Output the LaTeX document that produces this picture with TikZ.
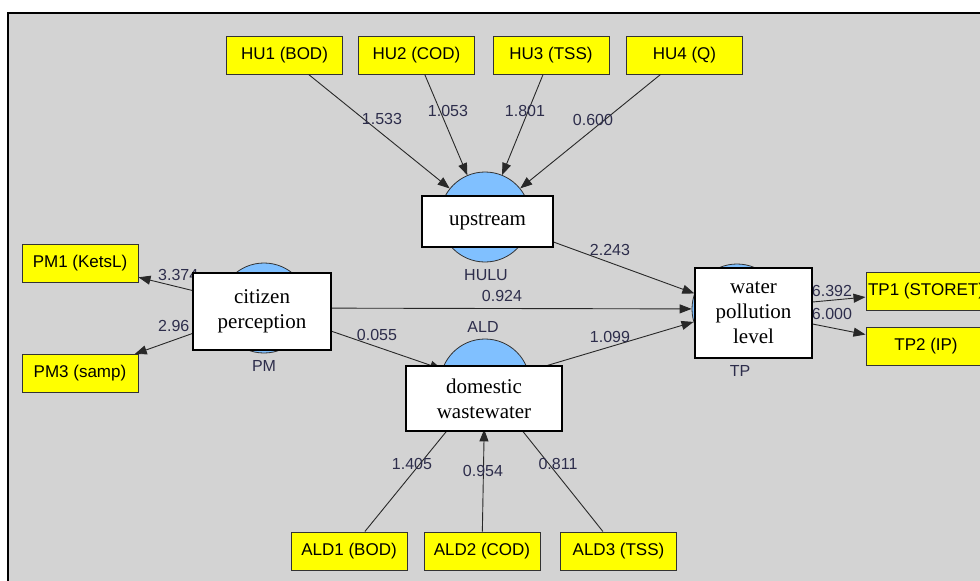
\documentclass[tikz,border=0pt]{standalone}
\usepackage{fontspec}
\setmainfont{Liberation Serif}
\newfontfamily\arialf{Liberation Sans}
\usetikzlibrary{arrows.meta}
\definecolor{bggrey}{RGB}{211,211,211}
\definecolor{indyellow}{RGB}{255,255,0}
\definecolor{lvblue}{RGB}{128,192,255}
\definecolor{numcol}{RGB}{45,45,75}
\definecolor{linecol}{RGB}{40,40,40}
\tikzset{
  ind/.style={draw=black!80, line width=1pt, fill=indyellow, minimum width=116pt, minimum height=38pt, inner sep=0pt, font=\arialf\fontsize{17}{20}\selectfont},
  lv/.style={circle, draw=black!80, line width=0.8pt, fill=lvblue, minimum size=90pt, inner sep=0pt},
  arr/.style={draw=linecol, line width=0.9pt, -{Triangle[length=12pt,width=9pt]}},
  num/.style={inner sep=0pt, text=numcol, font=\arialf\fontsize{16}{18}\selectfont},
  lvname/.style={inner sep=0pt, text=numcol, font=\arialf\fontsize{16}{18}\selectfont},
  wbox/.style={draw=black, line width=2pt, fill=white, align=center, inner sep=0pt, font=\fontsize{21}{25}\selectfont}
}
\begin{document}
\begin{tikzpicture}[x=1pt,y=-1pt]
\useasboundingbox (0,0) rectangle (980,581);
\clip (0,0) rectangle (980,581);
\fill[white] (0,0) rectangle (980,581);
\fill[bggrey] (8,13) rectangle (995,595);
\draw[line width=2pt] (8,600) -- (8,13) -- (995,13);

% latent variable circles
\node[lv] (hulu) at (485,217) {};
\node[lv] (pm) at (264,308) {};
\node[lv] (ald) at (485,384) {};
\node[lv] (tp) at (737,309) {};

% indicators
\node[ind] (hu1) at (284.5,55) {HU1 (BOD)};
\node[ind] (hu2) at (416.5,55) {HU2 (COD)};
\node[ind] (hu3) at (551,55) {HU3 (TSS)};
\node[ind] (hu4) at (684.5,55) {HU4 (Q)};
\node[ind] (pm1) at (80,263) {PM1 (KetsL)};
\node[ind] (pm3) at (80,373.5) {PM3 (samp)};
\node[ind] (ald1) at (349,551) {ALD1 (BOD)};
\node[ind] (ald2) at (482,551) {ALD2 (COD)};
\node[ind] (ald3) at (618.5,551) {ALD3 (TSS)};
\node[ind, minimum width=120pt] (tp1) at (926,291.5) {TP1 (STORET)};
\node[ind, minimum width=120pt] (tp2) at (926,346.5) {TP2 (IP)};

% connectors
\draw[arr] (hu1) -- (hulu);
\draw[arr] (hu2) -- (hulu);
\draw[arr] (hu3) -- (hulu);
\draw[arr] (hu4) -- (hulu);
\draw[arr] (pm) -- (pm1);
\draw[arr] (pm) -- (pm3);
\draw[arr] (pm) -- (ald);
\draw[arr] (pm) -- (tp);
\draw[arr] (hulu) -- (tp);
\draw[arr] (ald) -- (tp);
\draw[arr] (tp) -- (tp1);
\draw[arr] (tp) -- (tp2);
\draw[arr] (ald1) -- (ald);
\draw[arr] (ald2) -- (ald);
\draw[arr] (ald3) -- (ald);

% coefficients
\node[num] (l1) at (382,119) {1.533};
\node[num] (l2) at (448,111) {1.053};
\node[num] (l3) at (525,111) {1.801};
\node[num] (l4) at (593,120) {0.600};
\node[num] (l5) at (610,250) {2.243};
\node[num] (l6) at (502,296) {0.924};
\node[num] (l7) at (610,337) {1.099};
\node[num] (l8) at (377,335) {0.055};
\node[num, anchor=west] (l9) at (158,275) {3.374};
\node[num, anchor=west] (l10) at (158,326) {2.96};
\node[num] (l11) at (832,291) {6.392};
\node[num] (l12) at (832,314) {6.000};
\node[num] (l13) at (412,464) {1.405};
\node[num] (l14) at (483,471) {0.954};
\node[num] (l15) at (558,464) {0.811};

% construct names
\node[lvname] (nhulu) at (486,275) {HULU};
\node[lvname] (nald) at (483,327) {ALD};
\node[lvname] (npm) at (264,366) {PM};
\node[lvname] (ntp) at (740,371) {TP};

% white label boxes
\node[wbox, minimum width=131pt, minimum height=51pt] (bup) at (487.5,221.5) {upstream};
\node[wbox, minimum width=138pt, minimum height=77pt] (bcit) at (262,311.5) {citizen\\perception};
\node[wbox, minimum width=156pt, minimum height=65pt] (bdom) at (484,398.5) {domestic\\wastewater};
\node[wbox, minimum width=117pt, minimum height=90pt] (bwat) at (753.5,313) {water\\pollution\\level};
\end{tikzpicture}
\end{document}
